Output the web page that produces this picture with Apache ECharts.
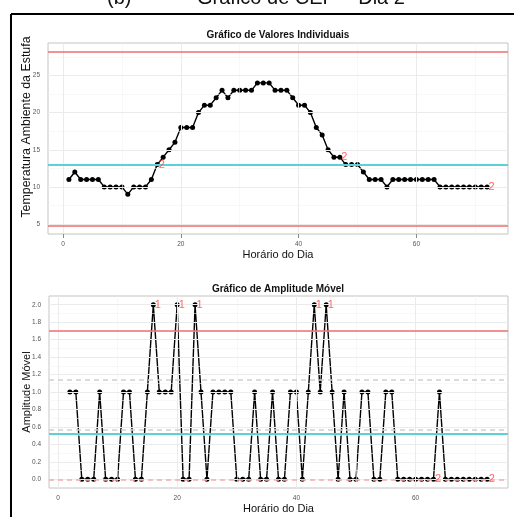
<!DOCTYPE html>
<html>
<head>
<meta charset="utf-8">
<style>
  html, body { margin: 0; padding: 0; background: #fff; }
  #chart { width: 514px; height: 517px; }
</style>
<script src="https://cdn.jsdelivr.net/npm/echarts@6/dist/echarts.min.js"></script>
</head>
<body>
<div id="chart"></div>
<script>
// Temperatura por hora (hora 1..72)
const temps = [11, 12, 11, 11, 11, 11, 10, 10, 10, 10, 9, 10, 10, 10, 11,
  13, 14, 15, 16, 18, 18, 18, 20, 21, 21, 22, 23, 22, 23, 23, 23, 23,
  24, 24, 24, 23, 23, 23, 22, 21, 21, 20, 18, 17, 15, 14, 14, 13, 13, 13,
  12, 11, 11, 11, 10, 11, 11, 11, 11, 11, 11, 11, 11,
  10, 10, 10, 10, 10, 10, 10, 10, 10];
// Amplitude movel (hora 2..72)
const movingRange = [1, 1, 0, 0, 0, 1, 0, 0, 0, 1, 1, 0, 0, 1,
  2, 1, 1, 1, 2, 0, 0, 2, 1, 0, 1, 1, 1, 1,
  0, 0, 0, 1, 0, 0, 1, 0, 0, 1, 1, 0, 1,
  2, 1, 2, 1, 0, 1, 0, 0, 1, 1, 0, 0, 1, 1,
  0, 0, 0, 0, 0, 0, 0, 1, 0, 0, 0, 0, 0, 0, 0, 0];

// regras violadas
const tempFlagHours = [16, 47, 72];
const tempFlagText = ['2', '2', '2'];
const mrFlagHours = [16, 20, 23, 43, 45, 63, 72];
const mrFlagText = ['1', '1', '1', '1', '1', '2', '2'];

// limites de controle
const tempLimits = [28.2, 13.04, 4.83];           // LSC, LC, LIC
const mrLimits = [1.70, 0.521, 0];                 // LSC, LC, LIC
const mrDashed = [1.137, 0.568];

// ticks / grade
const xTicks = [0, 20, 40, 60];
const xMinor = [10, 30, 50, 70];
const tempTicks = [5, 10, 15, 20, 25];
const tempMinor = [7.5, 12.5, 17.5, 22.5, 27.5];
const mrTicks = [0, 0.2, 0.4, 0.6, 0.8, 1.0, 1.2, 1.4, 1.6, 1.8, 2.0];
const mrMinor = [0.1, 0.3, 0.5, 0.7, 0.9, 1.1, 1.3, 1.5, 1.7, 1.9];

const FONT = "'Liberation Sans', Arial, sans-serif";
const RED = '#f26d6d';
const CYAN = '#5fd0d3';
const FLAG = '#ff3d3d';

const tempData = temps.map((v, i) => [i + 1, v]);
const mrData = movingRange.map((v, i) => [i + 2, v]);

function xAxisCfg(idx, min, max) {
  return {
    type: 'value', gridIndex: idx, min: min, max: max,
    name: 'Horário do Dia', nameLocation: 'middle', nameGap: 15,
    nameTextStyle: { fontFamily: FONT, fontSize: 11, color: '#111' },
    axisLine: { show: false },
    axisTick: { show: true, length: 4, customValues: xTicks, lineStyle: { color: '#888' } },
    axisLabel: { customValues: xTicks, fontFamily: FONT, fontSize: 6.5, color: '#555', margin: 7 },
    splitLine: { show: false }
  };
}

function yAxisCfg(idx, min, max, ticks, fmt) {
  return {
    type: 'value', gridIndex: idx, min: min, max: max,
    axisLine: { show: false },
    axisTick: { show: true, length: 4, customValues: ticks, lineStyle: { color: '#888' } },
    axisLabel: { customValues: ticks, fontFamily: FONT, fontSize: 6.5, color: '#555', margin: 8, formatter: fmt },
    splitLine: { show: false }
  };
}

function gridLines(idx, yMajor, yMinor) {
  const minorStyle = { color: '#f4f4f4', width: 0.6, type: 'solid' };
  const majorStyle = { color: '#ebebeb', width: 1, type: 'solid' };
  const d = [];
  xMinor.forEach(v => d.push({ xAxis: v, lineStyle: minorStyle }));
  yMinor.forEach(v => d.push({ yAxis: v, lineStyle: minorStyle }));
  xTicks.forEach(v => d.push({ xAxis: v, lineStyle: majorStyle }));
  yMajor.forEach(v => d.push({ yAxis: v, lineStyle: majorStyle }));
  return {
    type: 'line', xAxisIndex: idx, yAxisIndex: idx, data: [], z: 1,
    markLine: { silent: true, symbol: 'none', label: { show: false }, animation: false, emphasis: { disabled: true }, data: d }
  };
}

function limitLines(idx, items) {
  return {
    type: 'line', xAxisIndex: idx, yAxisIndex: idx, data: [], z: 2,
    markLine: {
      silent: true, symbol: 'none', label: { show: false }, animation: false, emphasis: { disabled: true },
      data: items.map(it => ({ yAxis: it[0], lineStyle: { color: it[1], width: it[2], type: it[3], opacity: 1 } }))
    }
  };
}

function flagSeries(idx, hours, texts, lookup) {
  return {
    type: 'scatter', xAxisIndex: idx, yAxisIndex: idx, z: 5,
    symbolSize: 1, itemStyle: { color: 'rgba(0,0,0,0)' },
    data: hours.map((h, i) => ({ value: [h, lookup(h)], txt: texts[i] })),
    label: {
      show: true, position: 'right', distance: 1,
      formatter: p => p.data.txt,
      fontFamily: FONT, fontSize: 11, color: FLAG
    }
  };
}

function dataSeries(idx, data) {
  return {
    type: 'line', xAxisIndex: idx, yAxisIndex: idx, data: data, z: 3,
    symbol: 'circle', symbolSize: 5, showSymbol: true,
    itemStyle: { color: '#000', borderWidth: 0 },
    lineStyle: { color: '#000', width: 1.4, type: 'solid' }
  };
}

const chart = echarts.init(document.getElementById('chart'), null, { renderer: 'canvas' });

chart.setOption({
  animation: false,
  backgroundColor: '#fff',
  grid: [
    { left: 48, right: 6, top: 43, height: 191, show: true, borderColor: '#c4c4c4', borderWidth: 1, backgroundColor: '#fff' },
    { left: 49, right: 6, top: 296, height: 192, show: true, borderColor: '#c4c4c4', borderWidth: 1, backgroundColor: '#fff' }
  ],
  xAxis: [xAxisCfg(0, -2.55, 75.55), xAxisCfg(1, -1.5, 75.5)],
  yAxis: [
    yAxisCfg(0, 3.66, 29.37, tempTicks, v => String(v)),
    yAxisCfg(1, -0.1, 2.1, mrTicks, v => v.toFixed(1))
  ],
  graphic: [
    { type: 'line', shape: { x1: 11, y1: 14, x2: 514, y2: 14 }, style: { stroke: '#000', lineWidth: 2 } },
    { type: 'line', shape: { x1: 11, y1: 14, x2: 11, y2: 517 }, style: { stroke: '#000', lineWidth: 2 } },
    { type: 'text', x: 107, y: 8, style: { text: '(b)', font: '20px ' + FONT, fill: '#111', textVerticalAlign: 'bottom' } },
    { type: 'text', x: 197, y: 8, style: { text: 'Gráfico de CEP – Dia 2', font: '20px ' + FONT, fill: '#111', textVerticalAlign: 'bottom' } },
    { type: 'text', x: 278, y: 35, style: { text: 'Gráfico de Valores Individuais', font: 'bold 10px ' + FONT, fill: '#111', textAlign: 'center', textVerticalAlign: 'middle' } },
    { type: 'text', x: 278, y: 289, style: { text: 'Gráfico de Amplitude Móvel', font: 'bold 10px ' + FONT, fill: '#111', textAlign: 'center', textVerticalAlign: 'middle' } },
    { type: 'text', x: 27, y: 127, rotation: Math.PI / 2, style: { text: 'Temperatura Ambiente da Estufa', font: '12.4px ' + FONT, fill: '#111', textAlign: 'center', textVerticalAlign: 'middle' } },
    { type: 'text', x: 27, y: 392, rotation: Math.PI / 2, style: { text: 'Amplitude Móvel', font: '11px ' + FONT, fill: '#111', textAlign: 'center', textVerticalAlign: 'middle' } }
  ],
  series: [
    gridLines(0, tempTicks, tempMinor),
    gridLines(1, mrTicks, mrMinor),
    limitLines(0, [
      [tempLimits[0], RED, 1.5, 'solid'],
      [tempLimits[1], CYAN, 2, 'solid'],
      [tempLimits[2], RED, 1.5, 'solid']
    ]),
    limitLines(1, [
      [mrDashed[0], '#d0d0d0', 1.5, [5, 4]],
      [mrDashed[1], '#d0d0d0', 1.5, [5, 4]],
      [mrLimits[0], RED, 1.5, 'solid'],
      [mrLimits[1], CYAN, 2, 'solid'],
      [mrLimits[2], '#f6aaaa', 1.5, [5, 4]]
    ]),
    dataSeries(0, tempData),
    dataSeries(1, mrData),
    flagSeries(0, tempFlagHours, tempFlagText, h => temps[h - 1]),
    flagSeries(1, mrFlagHours, mrFlagText, h => movingRange[h - 2])
  ]
});
</script>
</body>
</html>
